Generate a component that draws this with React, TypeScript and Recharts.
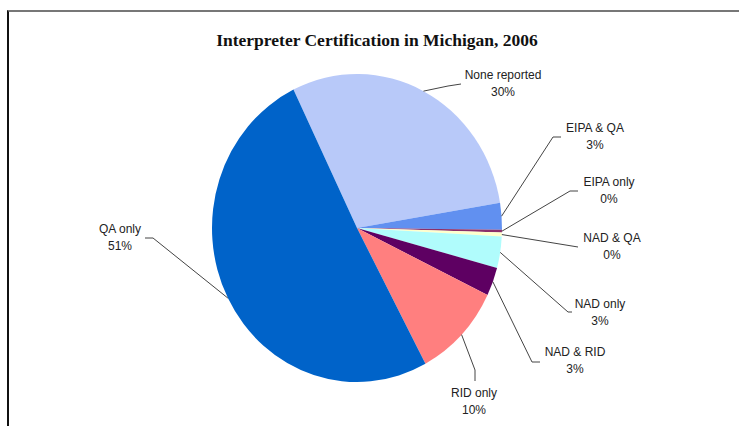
import { PieChart, Pie, Cell } from 'recharts';

const categories = ['None reported', 'EIPA & QA', 'EIPA only', 'NAD & QA', 'NAD only', 'NAD & RID', 'RID only', 'QA only'];
const shares = [29.6, 2.8, 0.3, 0.4, 3.3, 3.0, 10.0, 50.6];
const colors = ['#B8C9F9', '#6190F0', '#8B2F6A', '#FFFFCC', '#B0FCFC', '#5E0062', '#FF7F7F', '#0063C9'];
const title = 'Interpreter Certification in Michigan, 2006';

const data = categories.map((name, i) => ({ name, value: shares[i] }));
const total = shares.reduce((a, b) => a + b, 0);

// pie is drawn a bit taller than wide, like the original
const CX = 357;
const CY = 228;
const RX = 145;
const RY = 154;

// where the labels were dragged to: text centre / first baseline, then leader bends
const labelSpots: Record<string, { x: number; y: number; bends: [number, number][] }> = {
  'None reported': { x: 503, y: 79, bends: [[448, 86], [461, 84]] },
  'EIPA & QA': { x: 595, y: 132, bends: [[553, 137], [561, 137]] },
  'EIPA only': { x: 609, y: 186, bends: [[570, 191], [578, 191]] },
  'NAD & QA': { x: 612, y: 242, bends: [[578, 247]] },
  'NAD only': { x: 600, y: 308, bends: [[568, 312], [572, 312]] },
  'NAD & RID': { x: 575, y: 356, bends: [[532, 362], [540, 362]] },
  'RID only': { x: 474, y: 397, bends: [[475, 370], [475, 381]] },
  'QA only': { x: 120, y: 233, bends: [[153, 238], [145, 238]] },
};

function renderLabel(props: any) {
  const { cx, cy, outerRadius, midAngle, name, value } = props;
  const spot = labelSpots[name];
  if (!spot) return null;
  const rad = (-midAngle * Math.PI) / 180;
  const sx = cx + outerRadius * Math.cos(rad);
  const sy = cy + outerRadius * (RY / RX) * Math.sin(rad);
  const pts = [[sx, sy], ...spot.bends].map((p) => p.join(',')).join(' ');
  const pct = Math.round((value / total) * 100);
  return (
    <g>
      <polyline points={pts} fill="none" stroke="#444" strokeWidth={1} />
      <text x={spot.x} y={spot.y} textAnchor="middle" fontSize={12} fill="#222" fontFamily="'Liberation Sans', Arial, sans-serif">
        {name}
      </text>
      <text x={spot.x} y={spot.y + 17} textAnchor="middle" fontSize={12} fill="#222" fontFamily="'Liberation Sans', Arial, sans-serif">
        {pct}%
      </text>
    </g>
  );
}

export default function App() {
  return (
    <div style={{ position: 'absolute', left: 0, top: 0, width: 739, height: 426, background: '#fff' }}>
      <style>{`.recharts-sector{transform:scaleY(${RY / RX});transform-origin:${CX}px ${CY}px}`}</style>
      <div
        style={{
          position: 'absolute',
          left: 7,
          top: 10,
          width: 732,
          height: 416,
          borderTop: '2px solid #777',
          borderLeft: '2px solid #111',
          boxSizing: 'border-box',
        }}
      />
      <div
        style={{
          position: 'absolute',
          left: 0,
          top: 32,
          width: 754,
          textAlign: 'center',
          fontFamily: "'Liberation Serif', 'Times New Roman', serif",
          fontWeight: 'bold',
          fontSize: 17.5,
          lineHeight: '17px',
          color: '#111',
        }}
      >
        {title}
      </div>
      <div style={{ position: 'absolute', left: 0, top: 0 }}>
        <PieChart width={739} height={426} margin={{ top: 0, right: 0, bottom: 0, left: 0 }}>
          <Pie
            data={data}
            dataKey="value"
            nameKey="name"
            cx={CX}
            cy={CY}
            outerRadius={RX}
            startAngle={116}
            endAngle={-244}
            stroke="none"
            label={renderLabel}
            labelLine={false}
            isAnimationActive={false}
          >
            {data.map((d, i) => (
              <Cell key={d.name} fill={colors[i]} />
            ))}
          </Pie>
        </PieChart>
      </div>
    </div>
  );
}
